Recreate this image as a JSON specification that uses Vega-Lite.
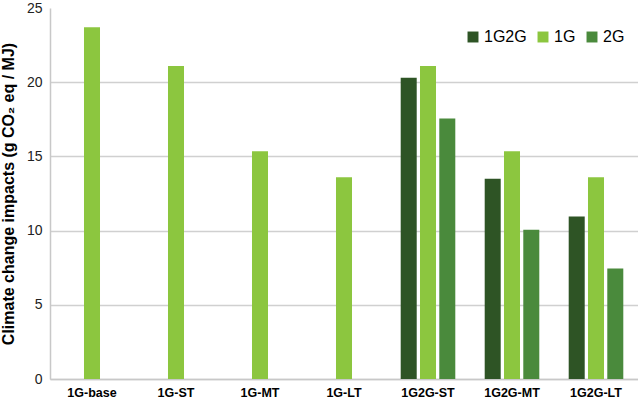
{
  "$schema": "https://vega.github.io/schema/vega-lite/v6.json",
  "width": 588,
  "height": 371,
  "autosize": {"type": "none"},
  "padding": {"left": 50, "top": 8, "right": 0, "bottom": 21},
  "background": "white",
  "config": {
    "font": "Liberation Sans",
    "view": {"stroke": null}
  },
  "data": {
    "values": [
      {"scenario": "1G-base", "type": "1G", "value": 23.7},
      {"scenario": "1G-ST", "type": "1G", "value": 21.1},
      {"scenario": "1G-MT", "type": "1G", "value": 15.35},
      {"scenario": "1G-LT", "type": "1G", "value": 13.6},
      {"scenario": "1G2G-ST", "type": "1G2G", "value": 20.3},
      {"scenario": "1G2G-ST", "type": "1G", "value": 21.1},
      {"scenario": "1G2G-ST", "type": "2G", "value": 17.55},
      {"scenario": "1G2G-MT", "type": "1G2G", "value": 13.5},
      {"scenario": "1G2G-MT", "type": "1G", "value": 15.35},
      {"scenario": "1G2G-MT", "type": "2G", "value": 10.05},
      {"scenario": "1G2G-LT", "type": "1G2G", "value": 10.95},
      {"scenario": "1G2G-LT", "type": "1G", "value": 13.6},
      {"scenario": "1G2G-LT", "type": "2G", "value": 7.45}
    ]
  },
  "mark": {"type": "bar"},
  "encoding": {
    "x": {
      "field": "scenario",
      "type": "nominal",
      "sort": ["1G-base", "1G-ST", "1G-MT", "1G-LT", "1G2G-ST", "1G2G-MT", "1G2G-LT"],
      "scale": {"paddingInner": 0.35, "paddingOuter": 0.175},
      "axis": {
        "title": null,
        "labelAngle": 0,
        "labelFontWeight": "bold",
        "labelFontSize": 12.5,
        "labelColor": "#000000",
        "labelPadding": 7,
        "ticks": false,
        "domainColor": "#c8c8c8",
        "domainWidth": 1.5
      }
    },
    "xOffset": {
      "field": "type",
      "type": "nominal",
      "sort": ["1G2G", "1G", "2G"],
      "scale": {"domain": ["1G2G", "1G", "2G"], "paddingInner": 0.17}
    },
    "y": {
      "field": "value",
      "type": "quantitative",
      "scale": {"domain": [0, 25], "nice": false},
      "axis": {
        "title": "Climate change impacts (g CO₂ eq / MJ)",
        "titleFontSize": 16,
        "titleFontWeight": "bold",
        "titleColor": "#000000",
        "titlePadding": 10,
        "values": [0, 5, 10, 15, 20, 25],
        "labelFontSize": 14,
        "labelColor": "#222222",
        "labelPadding": 8,
        "ticks": false,
        "grid": true,
        "gridColor": {"condition": {"test": "datum.value == 25", "value": "transparent"}, "value": "#d0d0d0"},
        "gridWidth": 1.5,
        "domainColor": "#c8c8c8",
        "domainWidth": 1.5
      }
    },
    "color": {
      "field": "type",
      "type": "nominal",
      "scale": {
        "domain": ["1G2G", "1G", "2G"],
        "range": ["#2e5425", "#8cc63f", "#4a8a3c"]
      },
      "legend": {
        "title": null,
        "orient": "none",
        "legendX": 415,
        "legendY": 21,
        "direction": "horizontal",
        "symbolType": "square",
        "symbolSize": 120,
        "symbolStrokeWidth": 0,
        "labelFontSize": 16,
        "labelColor": "#000000",
        "labelOffset": 3,
        "columnPadding": 8
      }
    }
  }
}
